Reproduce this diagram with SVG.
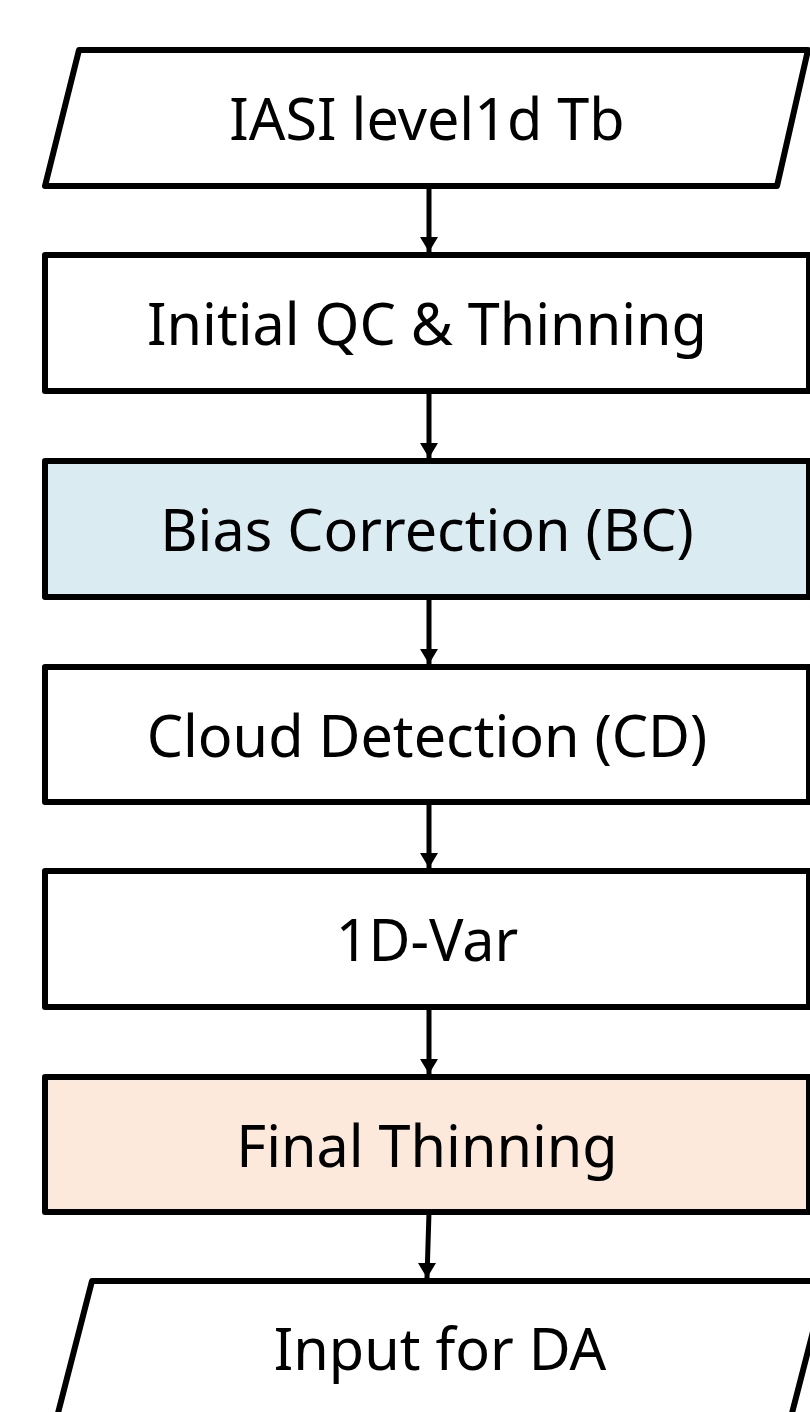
<svg xmlns="http://www.w3.org/2000/svg" width="810" height="1412" viewBox="0 0 810 1412">
<defs>
<style>
.s{stroke:#000;stroke-width:6;stroke-linejoin:round;}
.w{fill:#fff;}
.b{fill:#DAEBF2;}
.p{fill:#FCE9DB;}
.t{font-family:"Noto Sans","Open Sans",sans-serif;font-size:57.5px;fill:#000;text-anchor:middle;}
.c{stroke:#000;stroke-width:5;fill:none;}
</style>
<marker id="ah" markerWidth="18" markerHeight="16" refX="9" refY="15" orient="0" markerUnits="userSpaceOnUse">
<path d="M0,0 L18,0 L9,15 Z" fill="#000"/>
</marker>
</defs>
<rect width="810" height="1412" fill="#fff"/>
<g id="connectors">
<line class="c" x1="429" y1="186" x2="429" y2="252" marker-end="url(#ah)"/>
<line class="c" x1="429" y1="391" x2="429" y2="458" marker-end="url(#ah)"/>
<line class="c" x1="429" y1="597" x2="429" y2="664" marker-end="url(#ah)"/>
<line class="c" x1="429" y1="802" x2="429" y2="868" marker-end="url(#ah)"/>
<line class="c" x1="429" y1="1007" x2="429" y2="1074" marker-end="url(#ah)"/>
<line class="c" x1="429" y1="1212" x2="427" y2="1278" marker-end="url(#ah)"/>
</g>
<g id="n0">
<path class="s w" d="M79,50 L808,50 L777,186 L45,186 Z"/>
<text class="t" x="427" y="140">IASI level1d Tb</text>
</g>
<g id="n1">
<rect class="s w" x="45" y="255" width="764" height="136"/>
<text class="t" x="427" y="345">Initial QC &amp; Thinning</text>
</g>
<g id="n2">
<rect class="s b" x="45" y="461" width="764" height="136"/>
<text class="t" x="427" y="551">Bias Correction (BC)</text>
</g>
<g id="n3">
<rect class="s w" x="45" y="667" width="764" height="135"/>
<text class="t" x="427" y="757">Cloud Detection (CD)</text>
</g>
<g id="n4">
<rect class="s w" x="45" y="871" width="764" height="136"/>
<text class="t" x="427" y="961">1D-Var</text>
</g>
<g id="n5">
<rect class="s p" x="45" y="1077" width="764" height="135"/>
<text class="t" x="427" y="1167">Final Thinning</text>
</g>
<g id="n6">
<path class="s w" d="M92,1281 L826,1281 L791,1417 L57,1417 Z"/>
<text class="t" x="440" y="1370">Input for DA</text>
</g>
</svg>
